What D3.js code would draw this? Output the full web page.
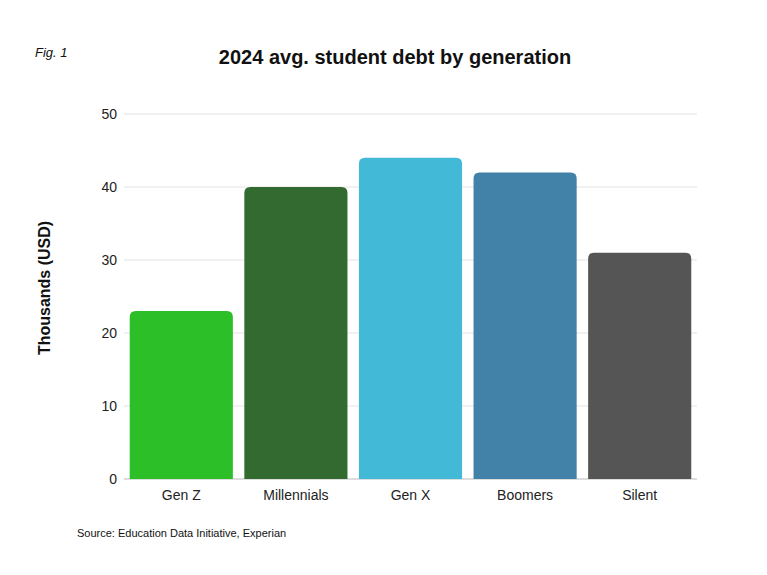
<!DOCTYPE html>
<html><head><meta charset="utf-8">
<script src="https://cdn.jsdelivr.net/npm/d3@7"></script>
<style>body{margin:0;background:#fff;font-family:"Liberation Sans",Arial,sans-serif}</style>
</head><body><svg id="c" width="767" height="575"></svg>
<script>
const categories=["Gen Z","Millennials","Gen X","Boomers","Silent"];
const values=[23,40,44,42,31];
const colors=["#2dbf28","#336a2f","#42b9d6","#4282a8","#555555"];
const yTicks=[0,10,20,30,40,50];

const svg=d3.select("#c");
const m={l:124,r:697,t:114,b:479};
const x=d3.scaleBand().domain(categories).range([m.l,m.r]).paddingInner(0.1).paddingOuter(0.05);
const y=d3.scaleLinear().domain([0,50]).range([m.b,m.t]);

svg.append("g").selectAll("line").data(yTicks).join("line")
 .attr("x1",m.l).attr("x2",m.r).attr("y1",d=>y(d)).attr("y2",d=>y(d))
 .attr("stroke",d=>d===0?"#bbb":"#e3e3e3").attr("stroke-width",1);
svg.append("g").selectAll("text").data(yTicks).join("text")
 .attr("x",m.l-7).attr("y",d=>y(d)+5).attr("text-anchor","end")
 .attr("font-size",14).attr("fill","#222").text(d=>d);

const r=6;
svg.append("g").selectAll("path").data(categories).join("path")
 .attr("fill",(d,i)=>colors[i])
 .attr("d",(d,i)=>{const x0=x(d),w=x.bandwidth(),yt=y(values[i]),yb=y(0);
   return `M${x0},${yb}V${yt+r}Q${x0},${yt} ${x0+r},${yt}H${x0+w-r}Q${x0+w},${yt} ${x0+w},${yt+r}V${yb}Z`;});

svg.append("g").selectAll("text").data(categories).join("text")
 .attr("x",d=>x(d)+x.bandwidth()/2).attr("y",500).attr("text-anchor","middle")
 .attr("font-size",14).attr("fill","#222").text(d=>d);

svg.append("text").attr("x",395).attr("y",64).attr("text-anchor","middle")
 .attr("font-size",20).attr("font-weight","bold").attr("fill","#111").text("2024 avg. student debt by generation");
svg.append("text").attr("x",35).attr("y",57).attr("font-size",13).attr("font-style","italic").attr("fill","#111").text("Fig. 1");
svg.append("text").attr("transform","translate(50,288) rotate(-90)").attr("text-anchor","middle")
 .attr("font-size",16).attr("font-weight","bold").attr("fill","#111").text("Thousands (USD)");
svg.append("text").attr("x",77).attr("y",537).attr("font-size",11).attr("fill","#111").text("Source: Education Data Initiative, Experian");
</script></body></html>
